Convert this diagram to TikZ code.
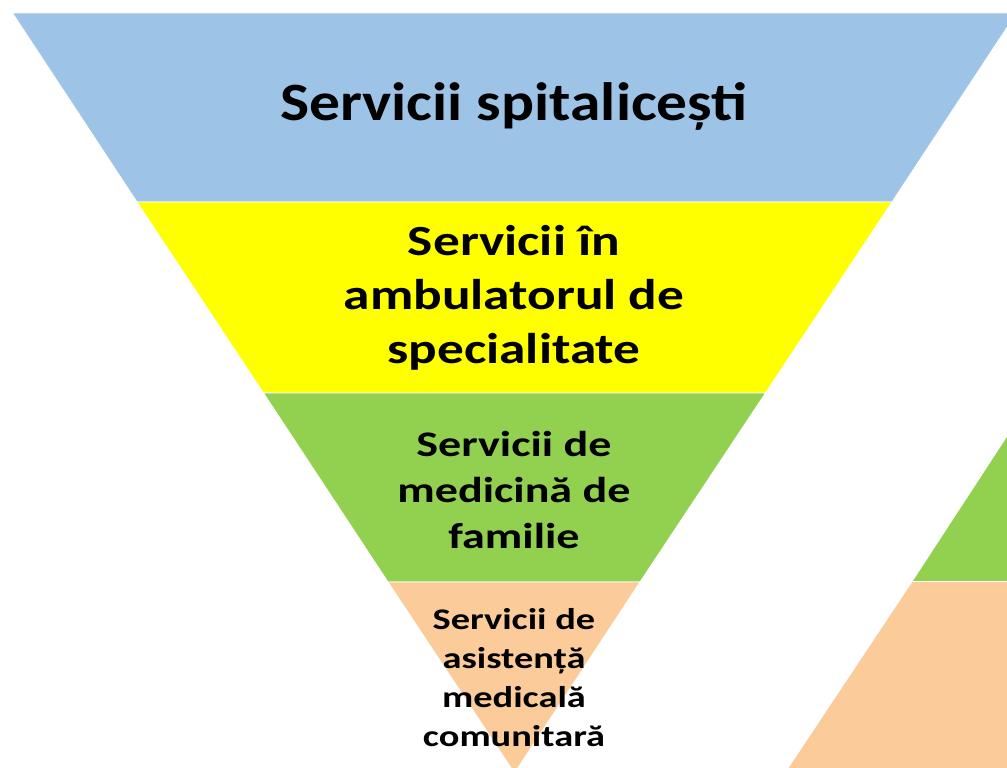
\documentclass[tikz,border=0pt]{standalone}
\usepackage{fontspec}
\setmainfont{Carlito}
\newfontfamily\wideA[FakeStretch=1.14]{Carlito}
\newfontfamily\wideB[FakeStretch=1.24]{Carlito}
\newfontfamily\wideC[FakeStretch=1.28]{Carlito}
\definecolor{bandblue}{HTML}{9DC3E6}
\definecolor{bandyellow}{HTML}{FFFF00}
\definecolor{bandgreen}{HTML}{92D050}
\definecolor{bandpeach}{HTML}{FBCB9A}
\tikzset{
  band/.style={draw=white, line width=0.8pt},
  lbl/.style={align=center, inner sep=0pt, text=black},
}
\begin{document}
\begin{tikzpicture}[x=1pt,y=-1pt]
\useasboundingbox (0,0) rectangle (1007,768);
\clip (0,0) rectangle (1007,768);
% right (partially visible) pyramid
\fill[bandgreen] (1007,437) -- (913,581) -- (1010,581) -- cycle;
\fill[bandpeach] (913,581) -- (786,772) -- (1010,772) -- (1010,581) -- cycle;
\draw[white, line width=0.8pt] (913,581) -- (1010,581);
% inverted pyramid
\filldraw[band, fill=bandblue]   (12.5,13) -- (1016.5,13) -- (892,202) -- (137,202) -- cycle;
\filldraw[band, fill=bandyellow] (137,202) -- (892,202) -- (765.5,393) -- (263.5,393) -- cycle;
\filldraw[band, fill=bandgreen]  (263.5,393) -- (765.5,393) -- (640,582) -- (388,582) -- cycle;
\filldraw[band, fill=bandpeach]  (388,582) -- (640,582) -- (514.5,773) -- cycle;
% labels
\node[lbl, font=\wideA\fontsize{54}{64}\selectfont\bfseries] (t1) at (514,106) {Servicii spitalicești};
\node[lbl, font=\wideB\fontsize{43}{54}\selectfont\bfseries] (t2) at (514,298) {Servicii în\\ambulatorul de\\specialitate};
\node[lbl, font=\wideC\fontsize{36}{46}\selectfont\bfseries] (t3) at (514,490) {Servicii de\\medicină de\\familie};
\node[lbl, font=\wideC\fontsize{30}{39}\selectfont\bfseries] (t4) at (514,678) {Servicii de\\asistență\\medicală\\comunitară};
\end{tikzpicture}
\end{document}
